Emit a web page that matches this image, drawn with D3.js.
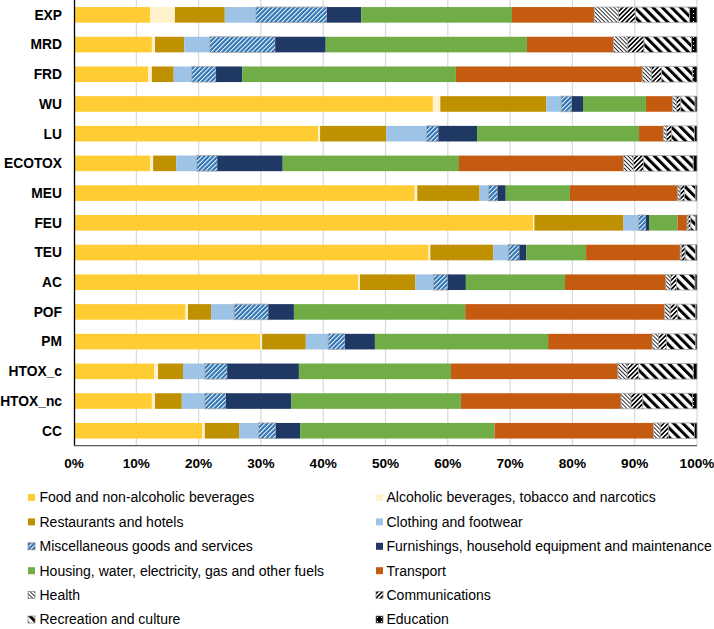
<!DOCTYPE html>
<html><head><meta charset="utf-8">
<script src="https://cdn.jsdelivr.net/npm/d3@7"></script>
<style>html,body{margin:0;padding:0;background:#fff;}svg{display:block;font-family:"Liberation Sans",Arial,sans-serif;}</style>
</head><body>
<svg id="chart" width="714" height="629"></svg>
<script>
const categories = ["EXP","MRD","FRD","WU","LU","ECOTOX","MEU","FEU","TEU","AC","POF","PM","HTOX_c","HTOX_nc","CC"];
const seriesNames = ["Food and non-alcoholic beverages","Alcoholic beverages, tobacco and narcotics","Restaurants and hotels","Clothing and footwear","Miscellaneous goods and services","Furnishings, household equipment and maintenance","Housing, water, electricity, gas and other fuels","Transport","Health","Communications","Recreation and culture","Education"];
const food        = [12.2,12.5,11.9,57.6,39.2,12.2,54.7,73.7,56.9,45.6,17.9,29.9,12.9,12.5,20.6];
const alcohol     = [4.0,0.5,0.6,1.2,0.3,0.5,0.4,0.2,0.3,0.3,0.4,0.3,0.6,0.5,0.4];
const restaurants = [8.0,4.7,3.5,17.0,10.6,3.7,10.0,14.3,10.1,8.9,3.7,7.0,4.0,4.3,5.5];
const clothing    = [5.0,4.1,2.9,2.4,6.5,3.3,1.4,2.4,2.4,2.9,3.7,3.6,3.5,3.7,3.1];
const misc        = [11.4,10.5,3.9,1.7,1.9,3.3,1.5,1.2,1.8,2.3,5.5,2.7,3.6,3.4,2.8];
const furnishings = [5.5,8.1,4.2,1.8,6.2,10.5,1.3,0.5,1.1,2.9,4.1,4.8,11.5,10.5,3.9];
const housing     = [24.2,32.3,34.3,10.1,26.0,28.3,10.3,4.6,9.6,15.9,27.5,27.8,24.4,27.2,31.2];
const transport   = [13.2,13.9,29.9,4.3,3.9,26.4,17.3,1.5,15.1,16.2,32.0,16.7,26.8,25.7,25.5];
const health      = [3.9,2.3,1.5,0.6,0.5,1.6,0.4,0.2,0.2,0.8,0.9,1.0,1.5,1.6,1.1];
const communications = [2.7,2.6,1.6,0.7,0.8,1.6,0.7,0.4,0.6,0.9,1.2,1.3,1.8,1.9,1.3];
const recreation  = [8.7,7.6,5.0,2.3,3.7,8.0,1.8,0.8,1.7,3.0,2.9,4.7,8.8,8.0,4.2];
const education   = [1.2,0.9,0.7,0.3,0.4,0.6,0.2,0.2,0.2,0.3,0.2,0.2,0.6,0.7,0.4];
const tickValues = [0,0.1,0.2,0.3,0.4,0.5,0.6,0.7,0.8,0.9,1.0];

const seriesValues = [food,alcohol,restaurants,clothing,misc,furnishings,housing,transport,health,communications,recreation,education];
const fills = ["#FFCC33","#FFF2CC","#BF9000","#9DC3E6","url(#pMisc)","#1F3864","#70AD47","#C55A11","url(#pHealth)","url(#pComm)","url(#pRec)","url(#pEdu)"];
const patterned = [false,false,false,false,true,false,false,false,true,true,true,true];

const svg = d3.select("#chart");
const defs = svg.append("defs");
function stripe(id, bg, fg, size, w, angle){
  const p = defs.append("pattern").attr("id",id).attr("patternUnits","userSpaceOnUse")
    .attr("width",size).attr("height",size).attr("patternTransform",`rotate(${angle})`);
  p.append("rect").attr("width",size).attr("height",size).attr("fill",bg);
  p.append("rect").attr("x",0).attr("y",0).attr("width",w).attr("height",size).attr("fill",fg);
}
stripe("pMisc","#2E75B6","#FFFFFF",3.2,1.0,45);
stripe("pHealth","#FFFFFF","#000000",2.8,0.8,-45);
stripe("pComm","#FFFFFF","#000000",3.2,1.6,45);
stripe("pRec","#FFFFFF","#000000",6.5,3.0,-45);
{
  const p = defs.append("pattern").attr("id","pEdu").attr("patternUnits","userSpaceOnUse").attr("width",4).attr("height",4);
  p.append("rect").attr("width",4).attr("height",4).attr("fill","#000");
  p.append("rect").attr("x",1).attr("y",1).attr("width",1).attr("height",1).attr("fill","#fff");
}

const x0 = 74, x1 = 697, yTop = 0, yBot = 445.6;
const x = d3.scaleLinear().domain([0,1]).range([x0,x1]);
const y = d3.scaleBand().domain(categories).range([yTop,yBot]).paddingInner(0.475).paddingOuter(0.2375);

const rows = categories.map((c,i)=>{ const r={cat:c}; seriesNames.forEach((s,j)=>r[s]=seriesValues[j][i]); return r; });
const stacked = d3.stack().keys(seriesNames).offset(d3.stackOffsetExpand)(rows);

// grid
svg.append("g").selectAll("line").data(tickValues.slice(1)).join("line")
  .attr("x1",d=>x(d)).attr("x2",d=>x(d)).attr("y1",yTop).attr("y2",yBot)
  .attr("stroke","#D9D9D9").attr("stroke-width",1.2);

// bars
stacked.forEach((layer,j)=>{
  svg.append("g").selectAll("rect").data(layer).join("rect")
    .attr("x",d=>x(d[0])).attr("width",d=>Math.max(0,x(d[1])-x(d[0])))
    .attr("y",d=>y(d.data.cat)).attr("height",y.bandwidth())
    .attr("fill",fills[j])
    .attr("stroke",patterned[j]? "#A6A6A6":"none").attr("stroke-width",patterned[j]?0.8:0);
});

// axes lines
svg.append("line").attr("x1",x0+0.5).attr("x2",x0+0.5).attr("y1",yTop).attr("y2",yBot).attr("stroke","#000").attr("stroke-width",1.3);
svg.append("line").attr("x1",x0).attr("x2",x1).attr("y1",yBot).attr("y2",yBot).attr("stroke","#595959").attr("stroke-width",1.3);

// category labels
svg.append("g").selectAll("text").data(categories).join("text")
  .attr("x",62).attr("y",d=>y(d)+y.bandwidth()/2).attr("dy","0.35em")
  .attr("text-anchor","end").attr("font-weight","bold").attr("font-size","13.8px").attr("fill","#000")
  .text(d=>d);

// tick labels
svg.append("g").selectAll("text").data(tickValues).join("text")
  .attr("x",d=>x(d)).attr("y",463).attr("dy","0.35em").attr("text-anchor","middle")
  .attr("font-weight","bold").attr("font-size","13.6px").attr("fill","#000")
  .text(d=>d3.format(".0%")(d));

// legend
const leg = svg.append("g");
seriesNames.forEach((s,i)=>{
  const col = i%2, row = Math.floor(i/2);
  const ix = col===0 ? 28 : 376, tx = col===0 ? 39.5 : 386.5;
  const cy = 497.5 + row*24.4;
  leg.append("rect").attr("x",ix).attr("y",cy-3.5).attr("width",7).attr("height",7)
    .attr("fill",fills[i]).attr("stroke",patterned[i]?"#7F7F7F":"none").attr("stroke-width",0.7);
  leg.append("text").attr("x",tx).attr("y",cy).attr("dy","0.35em")
    .attr("font-size","14px").attr("fill","#000").text(s);
});
</script>
</body></html>
